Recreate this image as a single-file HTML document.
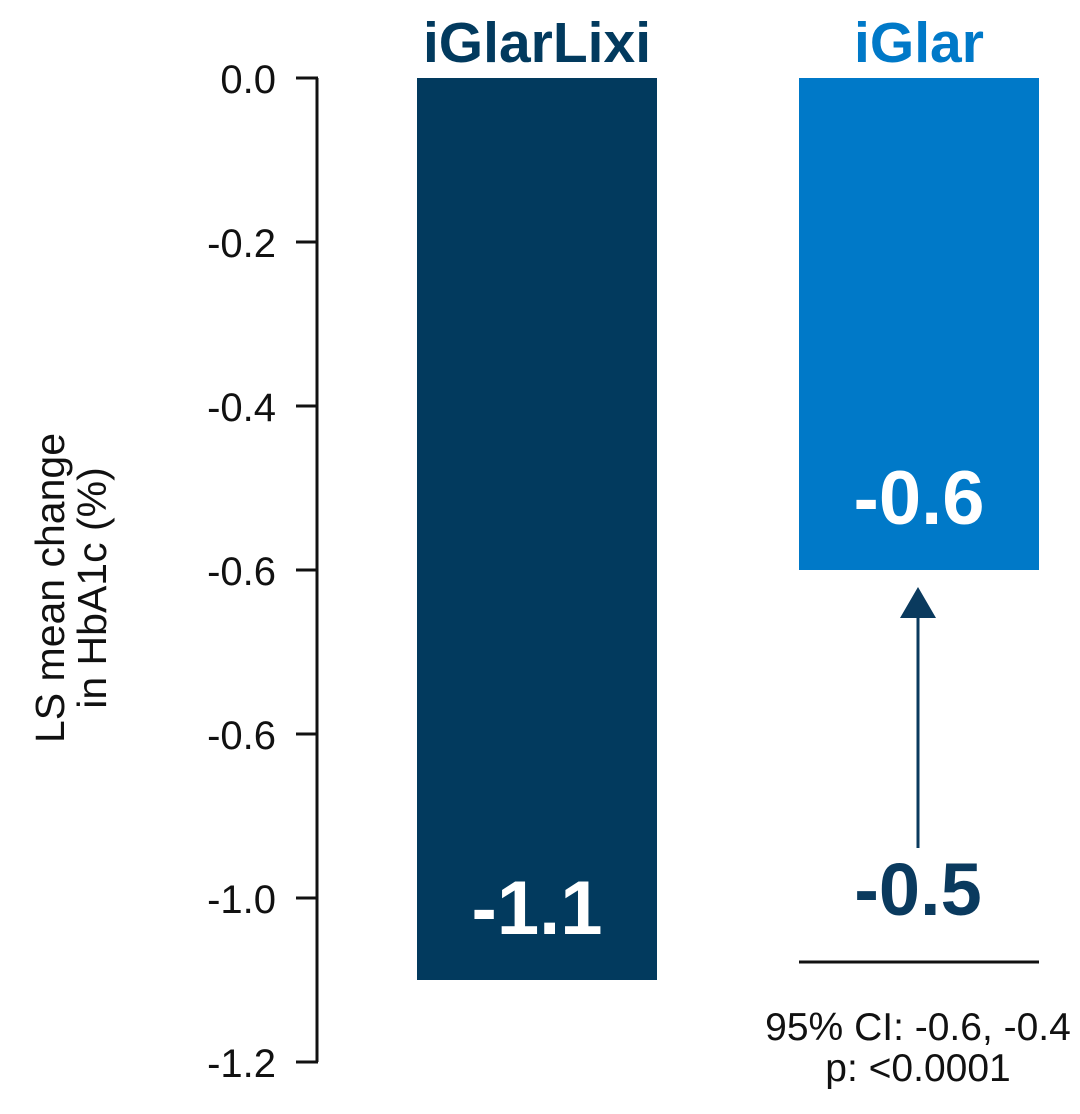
<!DOCTYPE html>
<html><head><meta charset="utf-8"><style>
body{margin:0;background:#fff;}
svg{display:block;font-family:"Liberation Sans",Arial,sans-serif;}
</style></head><body>
<svg id="chart" width="1080" height="1114" viewBox="0 0 1080 1114" xmlns="http://www.w3.org/2000/svg">
<g id="axis"></g>
<g id="bars"></g>
<text transform="translate(64,588) rotate(-90)" text-anchor="middle" font-size="41" fill="#111">LS mean change</text>
<text transform="translate(106,588) rotate(-90)" text-anchor="middle" font-size="41" fill="#111">in HbA1c (%)</text>
<g>
<line x1="918" y1="615" x2="918" y2="848" stroke="#0a3a5e" stroke-width="3"/>
<polygon points="918,587 900,618 936,618" fill="#0a3a5e"/>
<text x="918" y="915" text-anchor="middle" font-size="74" font-weight="bold" fill="#0a3a5e">-0.5</text>
<line x1="799" y1="962" x2="1039" y2="962" stroke="#111" stroke-width="3"/>
<text x="918" y="1040" text-anchor="middle" font-size="39" fill="#111">95% CI: -0.6, -0.4</text>
<text x="918" y="1081" text-anchor="middle" font-size="39" fill="#111">p: &lt;0.0001</text>
</g>
</svg>
<script>
const categories = ["iGlarLixi", "iGlar"];
const values = [-1.1, -0.6];
const valueLabels = ["-1.1", "-0.6"];
const tickValues = [0, -0.2, -0.4, -0.6, -0.8, -1.0, -1.2];
const tickLabels = ["0.0", "-0.2", "-0.4", "-0.6", "-0.6", "-1.0", "-1.2"];
const colors = ["#023a5e", "#0079c8"];

const NS = "http://www.w3.org/2000/svg";
const y = v => 78 + (-v) / 0.2 * 164;
const barLeft = [417, 799];
const barW = 240;
function mk(tag, attrs, parent, text){
  const e = document.createElementNS(NS, tag);
  for (const k in attrs) e.setAttribute(k, attrs[k]);
  if (text !== undefined) e.textContent = text;
  parent.appendChild(e); return e;
}
const axis = document.getElementById('axis');
const yl = mk('line', {x1:317, y1:y(0), x2:317, y2:y(-1.2), stroke:'#111', 'stroke-width':3}, axis);


tickValues.forEach((v, i) => {
  const t = mk('line', {x1:296, y1:y(v), x2:318, y2:y(v), stroke:'#111', 'stroke-width':3}, axis);
  
  
  const l = mk('text', {x:276, y:y(v) + 15, 'text-anchor':'end', 'font-size':40, fill:'#111'}, axis, tickLabels[i]);
  
  
});
const bars = document.getElementById('bars');
categories.forEach((c, i) => {
  const cx = barLeft[i] + barW / 2;
  const r = mk('rect', {x:barLeft[i], y:y(0), width:barW, height:y(values[i]) - y(0), fill:colors[i]}, bars);
  
  
  const h = mk('text', {x:cx, y:62, 'text-anchor':'middle', 'font-size':57, 'font-weight':'bold', fill:colors[i]}, bars, c);
  
  
  const vl = mk('text', {x:cx, y:y(values[i]) - 46, 'text-anchor':'middle', 'font-size':76, 'font-weight':'bold', fill:'#fff'}, bars, valueLabels[i]);
  
  
});
</script>
</body></html>
